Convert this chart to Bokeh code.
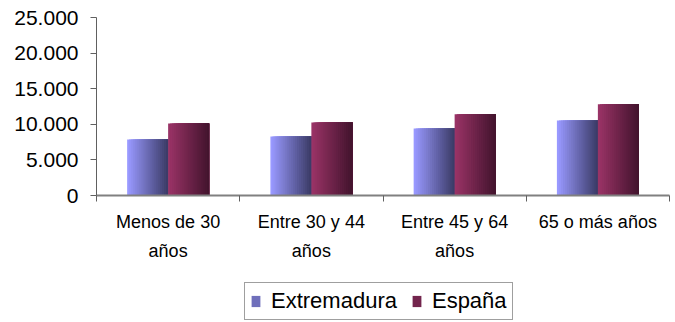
from bokeh.plotting import figure
from bokeh.layouts import column
from bokeh.models import (ColumnDataSource, Range1d, LinearAxis, FixedTicker, Legend, LegendItem)
from bokeh.transform import dodge
from bokeh.embed import file_html
from bokeh.resources import INLINE

# ---- data ----
categories = ["Menos de 30 años", "Entre 30 y 44 años", "Entre 45 y 64 años", "65 o más años"]
category_labels = ["Menos de 30\naños", "Entre 30 y 44\naños", "Entre 45 y 64\naños", "65 o más años"]
extremadura = [7850, 8300, 9400, 10550]
espana = [10100, 10250, 11400, 12800]
y_ticks = [0, 5000, 10000, 15000, 20000, 25000]
y_tick_labels = ["0", "5.000", "10.000", "15.000", "20.000", "25.000"]
series_names = ["Extremadura", "España"]

FONT = "Liberation Sans"

n = len(categories)
idx = list(range(n))
src = ColumnDataSource(dict(cat=categories, xi=idx, ext=extremadura, esp=espana))

p = figure(x_range=Range1d(-0.5, n - 0.5), y_range=Range1d(0, 25000),
           width=675, height=268, output_backend="svg", toolbar_location=None,
           x_axis_location=None, min_border_left=96, min_border_top=17,
           min_border_right=6, min_border_bottom=73)
p.outline_line_color = None
p.xgrid.visible = False
p.ygrid.visible = False
p.background_fill_color = "white"
p.border_fill_color = "white"

# y axis
ya = p.yaxis[0]
ya.ticker = FixedTicker(ticks=y_ticks)
ya.major_label_overrides = {t: l for t, l in zip(y_ticks, y_tick_labels)}
ya.minor_tick_line_color = None
ya.major_tick_out = 6
ya.major_tick_in = 0
ya.axis_line_color = "#606060"
ya.major_tick_line_color = "#606060"
ya.major_label_text_font = FONT
ya.major_label_text_font_size = "21px"
ya.major_label_text_color = "black"
ya.major_label_standoff = 12

# x axis: tick marks at category boundaries (no labels)
bounds = [i - 0.5 for i in range(n + 1)]
tick_axis = LinearAxis(ticker=FixedTicker(ticks=bounds),
                       major_label_overrides={b: "" for b in bounds},
                       major_label_text_font_size="1px", major_label_standoff=0,
                       major_tick_out=6, major_tick_in=0, minor_tick_line_color=None,
                       axis_line_color="#808080", axis_line_width=2,
                       major_tick_line_color="#606060")
p.add_layout(tick_axis, "below")

# category labels at category centres
cat_axis = LinearAxis(ticker=FixedTicker(ticks=idx),
                      major_label_overrides={i: l for i, l in zip(idx, category_labels)},
                      axis_line_color=None, major_tick_line_color=None, minor_tick_line_color=None,
                      major_label_text_font=FONT, major_label_text_font_size="18px",
                      major_label_text_color="black", major_label_standoff=4,
                      major_label_text_line_height=1.45)
p.add_layout(cat_axis, "below")

# bars with a horizontal gradient: overlapping strips, each reaching to the bar's right edge
def hexmix(c1, c2, t):
    a = [int(c1[i:i + 2], 16) for i in (1, 3, 5)]
    b = [int(c2[i:i + 2], 16) for i in (1, 3, 5)]
    return "#%02x%02x%02x" % tuple(round(a[k] + (b[k] - a[k]) * t) for k in range(3))

N = 20
bar_w = 0.286
grads = [("#9999ff", "#3c3c68"), ("#993366", "#44142e")]
fields = ["ext", "esp"]
centers = [-bar_w / 2, bar_w / 2]
for s in range(2):
    right = centers[s] + bar_w / 2
    for j in range(N):
        left = centers[s] - bar_w / 2 + j * bar_w / N
        col = hexmix(grads[s][0], grads[s][1], j / (N - 1))
        p.vbar(x=dodge("xi", (left + right) / 2), top=fields[s], bottom=0,
               width=right - left, source=src, fill_color=col, line_color=None)

# legend in a strip below the chart (its frame is aligned with the chart's frame)
lg = figure(width=675, height=54, output_backend="svg", toolbar_location=None,
            x_range=Range1d(0, 1), y_range=Range1d(0, 1),
            x_axis_location=None, y_axis_location=None,
            min_border_left=0, min_border_right=0, min_border_top=0, min_border_bottom=0)
lg.outline_line_color = None
lg.xgrid.visible = False
lg.ygrid.visible = False
legend_colors = [hexmix(grads[s][0], grads[s][1], 0.45) for s in range(2)]
# zero-height key glyphs: they only give the legend its colour swatches
keys = [lg.vbar(x=[0.5], top=[0], bottom=[0], width=0.0, fill_color=legend_colors[s], line_color=None)
        for s in range(2)]
legend = Legend(items=[LegendItem(label=series_names[i], renderers=[keys[i]]) for i in range(2)],
                orientation="horizontal", location=(148, 2),
                label_text_font=FONT, label_text_font_size="22px", label_text_color="black",
                glyph_width=11, glyph_height=14, label_standoff=10, spacing=14,
                padding=5, margin=0, border_line_color="#404040", border_line_width=1,
                background_fill_color="white", background_fill_alpha=1.0,
                label_height=24)
lg.add_layout(legend, "center")

layout = column(p, lg, spacing=0)
open("out.html", "w").write(file_html(layout, INLINE))
